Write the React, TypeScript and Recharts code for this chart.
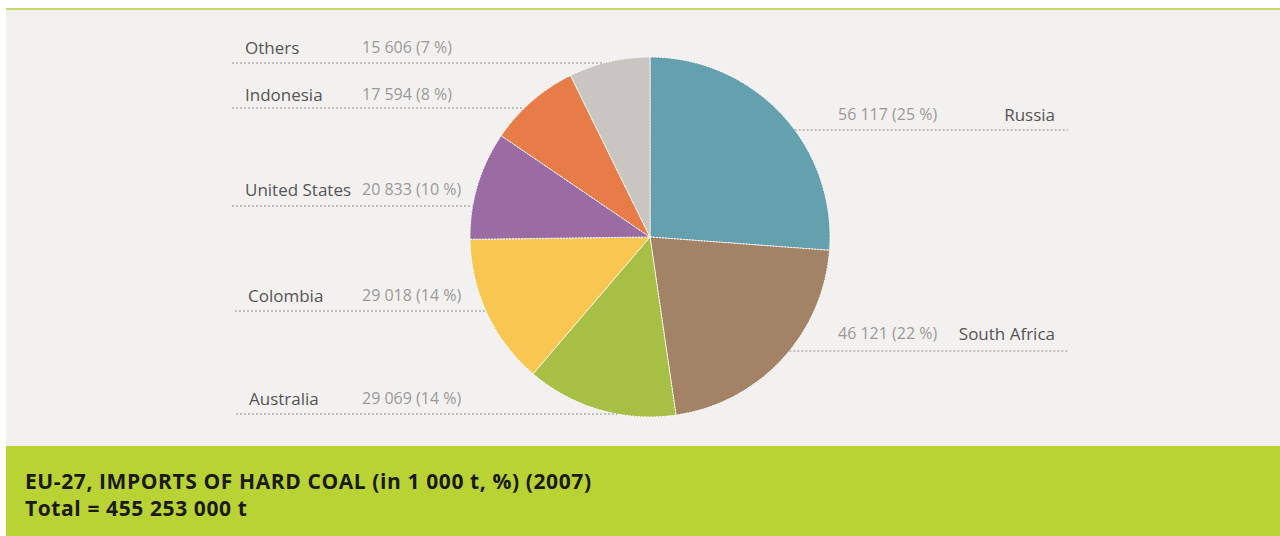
import React from 'react';
import { PieChart, Pie, Cell } from 'recharts';

const countries = ['Russia', 'South Africa', 'Australia', 'Colombia', 'United States', 'Indonesia', 'Others'];
const imports = [56117, 46121, 29069, 29018, 20833, 17594, 15606];
const shares = [25, 22, 14, 14, 10, 8, 7];

const COLORS = ['#65a0ae', '#a38366', '#a8bf45', '#f8c752', '#9b6ca3', '#e87c48', '#c9c5c1'];

// label placement (chart coords): side, text y, underline y, name x, line start x
const LABEL_POS = [
  { side: 'right', ty: 104, ly: 120 },
  { side: 'right', ty: 323, ly: 341 },
  { side: 'left', ty: 388, ly: 404, nx: 243, lx: 230 },
  { side: 'left', ty: 285, ly: 301, nx: 242, lx: 229 },
  { side: 'left', ty: 179, ly: 196, nx: 239, lx: 226 },
  { side: 'left', ty: 84, ly: 98, nx: 239, lx: 226 },
  { side: 'left', ty: 37, ly: 53, nx: 239, lx: 226 },
];

const data = countries.map((name, i) => ({ name, value: imports[i], share: shares[i] }));

const fmt = (v: number) => v.toString().replace(/\B(?=(\d{3})+(?!\d))/g, ' ');

const FONT = '"Open Sans", "Noto Sans", sans-serif';

const renderLabel = (props: any) => {
  const { cx, cy, outerRadius, index } = props;
  const pos: any = LABEL_POS[index];
  const d = data[index];
  const dy = pos.ly - cy;
  const half = Math.sqrt(Math.max(outerRadius * outerRadius - dy * dy, 0));
  const valueText = `${fmt(d.value)} (${d.share} %)`;
  if (pos.side === 'left') {
    const edge = cx - half;
    return (
      <g key={`lbl-${index}`}>
        <line x1={pos.lx} x2={edge} y1={pos.ly} y2={pos.ly} stroke="#8f8f8f" strokeDasharray="2 2" strokeWidth={1} />
        <text x={pos.nx} y={pos.ty} dominantBaseline="central" fill="#555" fontSize={17} fontFamily={FONT}>{d.name}</text>
        <text x={356} y={pos.ty} dominantBaseline="central" fill="#9a9a9a" fontSize={16} fontFamily={FONT}>{valueText}</text>
      </g>
    );
  }
  const edge = cx + half;
  return (
    <g key={`lbl-${index}`}>
      <line x1={edge} x2={1062} y1={pos.ly} y2={pos.ly} stroke="#8f8f8f" strokeDasharray="2 2" strokeWidth={1} />
      <text x={832} y={pos.ty} dominantBaseline="central" fill="#9a9a9a" fontSize={16} fontFamily={FONT}>{valueText}</text>
      <text x={1049} y={pos.ty} dominantBaseline="central" textAnchor="end" fill="#555" fontSize={17} fontFamily={FONT}>{d.name}</text>
    </g>
  );
};

export default function App() {
  return (
    <div style={{ position: 'absolute', left: 0, top: 0, width: 1280, height: 536, background: '#fff', overflow: 'hidden' }}>
      <div style={{ position: 'absolute', left: 6, top: 8, width: 1274, height: 2, background: '#c8d96b' }} />
      <div style={{ position: 'absolute', left: 6, top: 10, width: 1274, height: 436, background: '#f2f1ef' }}>
        <PieChart width={1274} height={436} margin={{ top: 0, right: 0, bottom: 0, left: 0 }}>
          <Pie
            data={data}
            dataKey="value"
            nameKey="name"
            cx={644}
            cy={227}
            outerRadius={180}
            startAngle={90}
            endAngle={-270}
            stroke="#ffffff"
            strokeWidth={1}
            strokeDasharray="2 1"
            label={renderLabel}
            labelLine={false}
            isAnimationActive={false}
          >
            {data.map((d, i) => (
              <Cell key={d.name} fill={COLORS[i]} />
            ))}
          </Pie>
        </PieChart>
      </div>
      <div
        style={{
          position: 'absolute',
          left: 6,
          top: 446,
          width: 1274,
          height: 90,
          background: '#b9d334',
          color: '#1a1a1a',
          fontFamily: '"Open Sans", "Noto Sans", sans-serif',
          fontWeight: 700,
          fontSize: 21,
          lineHeight: '27px',
          boxSizing: 'border-box',
          padding: '22px 0 0 19px',
          letterSpacing: 0.6,
        }}
      >
        <div>EU-27, IMPORTS OF HARD COAL (in 1 000 t, %) (2007)</div>
        <div>Total = 455 253 000 t</div>
      </div>
    </div>
  );
}
